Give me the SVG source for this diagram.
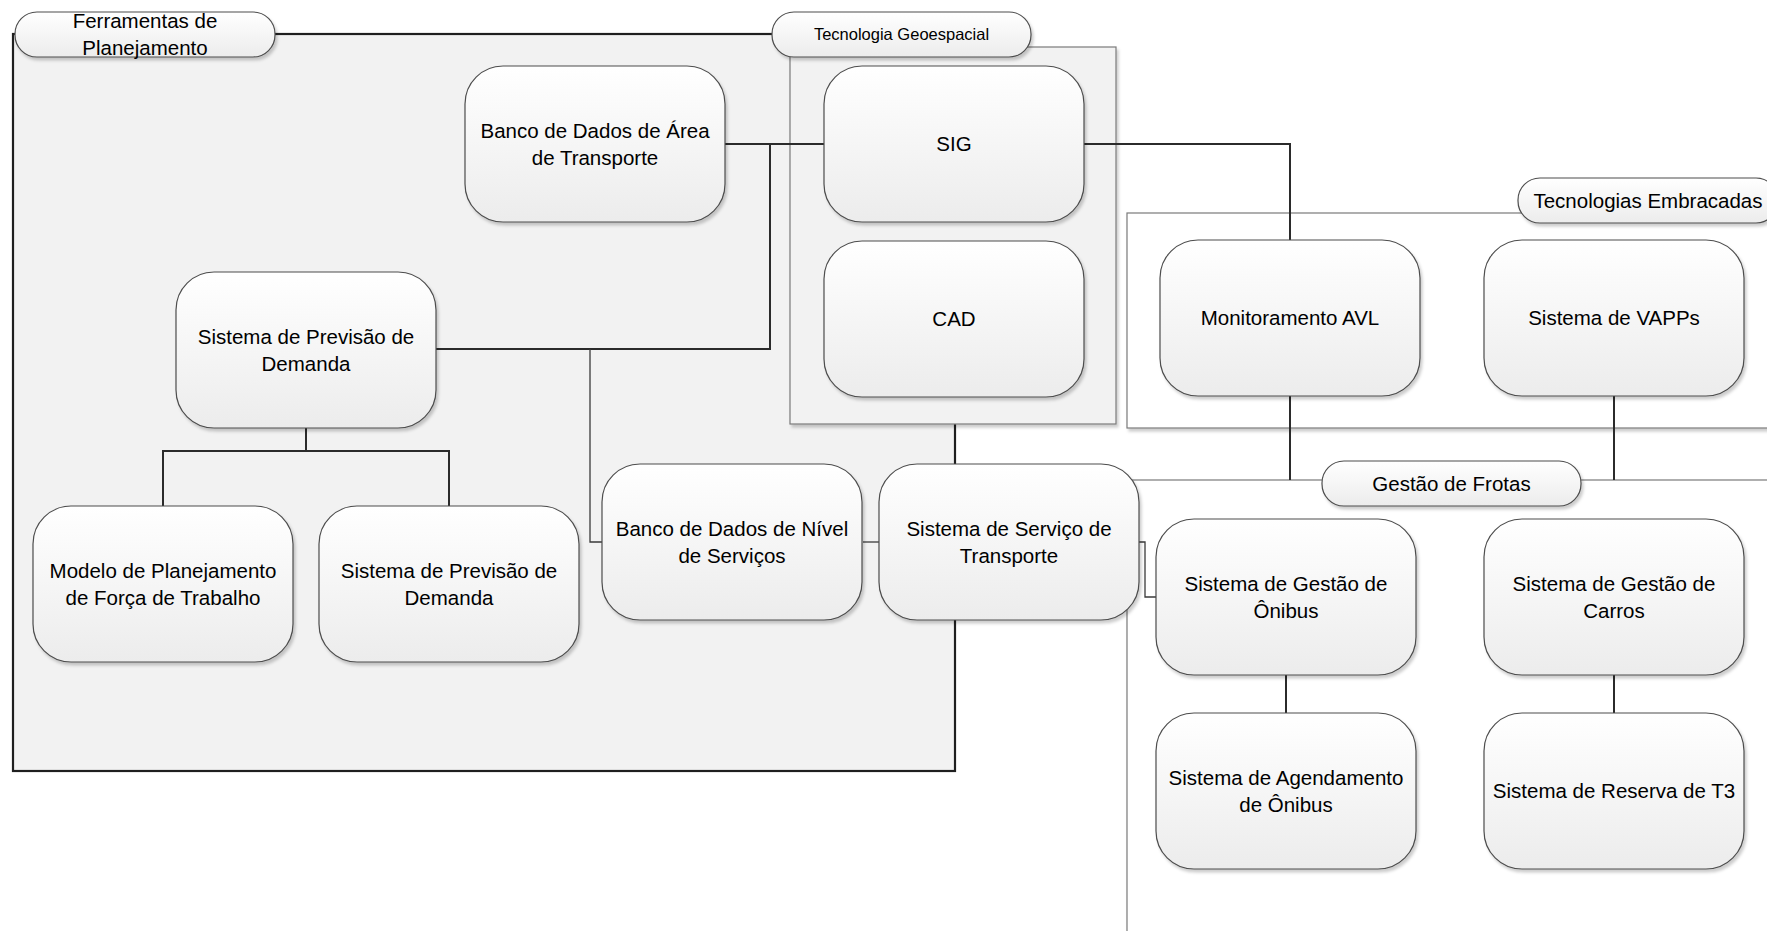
<svg xmlns="http://www.w3.org/2000/svg" width="1767" height="931" viewBox="0 0 1767 931">
<defs>
  <linearGradient id="g" x1="0" y1="0" x2="0" y2="1">
    <stop offset="0" stop-color="#ffffff"/>
    <stop offset="1" stop-color="#ececec"/>
  </linearGradient>
  <filter id="sh" x="-10%" y="-10%" width="125%" height="135%">
    <feDropShadow dx="2" dy="3" stdDeviation="1.5" flood-color="#000" flood-opacity="0.2"/>
  </filter>
</defs>
<style>
  .node rect { fill:url(#g); stroke:#4d4d4d; stroke-width:1.2; filter:url(#sh); }
  .lbl rect { fill:url(#g); stroke:#4d4d4d; stroke-width:1.2; filter:url(#sh); }
  text { font-family:"Liberation Sans", Arial, sans-serif; font-size:20.5px; fill:#000; text-anchor:middle; }
  .small { font-size:16.5px; }
  .cont { stroke:#7a7a7a; stroke-width:1.2; filter:url(#sh); }
  .c { fill:none; stroke:#2b2b2b; stroke-width:2; }
  .ct { fill:none; stroke:#3a3a3a; stroke-width:1.3; }
</style>
<rect width="1767" height="931" fill="#ffffff"/>

<g id="containers">
  <rect id="ferramentas-box" x="13" y="34" width="942" height="737" fill="#f2f2f2" stroke="#1f1f1f" stroke-width="2.2"/>
  <rect id="embarcadas-box" class="cont" x="1127" y="213" width="700" height="215" fill="#ffffff"/>
  <rect id="frotas-box" class="cont" x="1127" y="480" width="700" height="520" fill="#ffffff"/>
  <rect id="geo-box" class="cont" x="790" y="47" width="326" height="377" fill="#f2f2f2"/>
</g>

<g id="group-labels" class="lbl">
  <g id="lbl-ferramentas">
    <rect x="15" y="12" width="260" height="45" rx="22"/>
    <text x="145" y="27.5">Ferramentas de</text>
    <text x="145" y="54.5">Planejamento</text>
  </g>
  <g id="lbl-geo">
    <rect x="772" y="12" width="259" height="45" rx="22"/>
    <text class="small" x="901.5" y="40">Tecnologia Geoespacial</text>
  </g>
  <g id="lbl-embarcadas">
    <rect x="1518" y="178" width="260" height="45" rx="22"/>
    <text x="1648" y="208">Tecnologias Embracadas</text>
  </g>
  <g id="lbl-frotas">
    <rect x="1322" y="461" width="259" height="45" rx="22"/>
    <text x="1451.5" y="490.5">Gestão de Frotas</text>
  </g>
</g>

<g id="connectors">
  <path class="c" d="M725 144 H824"/>
  <path class="c" d="M770 144 V349 H436"/>
  <path class="ct" d="M590 349 V542 H602"/>
  <path class="ct" d="M863 542 H879"/>
  <path class="c" stroke-width="2.5" d="M306 428 V451 M163 506 V451 H449 V506"/>
  <path class="c" d="M1084 144 H1290 V240"/>
  <path class="c" d="M1290 396 V480"/>
  <path class="c" d="M1614 396 V480"/>
  <path class="c" d="M1286 675 V713"/>
  <path class="c" d="M1614 675 V713"/>
  <path class="ct" d="M1139 542 H1145 V597 H1156"/>
</g>

<g id="nodes">
  <g id="banco-area" class="node">
    <rect x="465" y="66" width="260" height="156" rx="38"/>
    <text x="595" y="137.5">Banco de Dados de Área</text>
    <text x="595" y="164.5">de Transporte</text>
  </g>
  <g id="sig" class="node">
    <rect x="824" y="66" width="260" height="156" rx="38"/>
    <text x="954" y="151">SIG</text>
  </g>
  <g id="cad" class="node">
    <rect x="824" y="241" width="260" height="156" rx="38"/>
    <text x="954" y="326">CAD</text>
  </g>
  <g id="previsao-1" class="node">
    <rect x="176" y="272" width="260" height="156" rx="38"/>
    <text x="306" y="343.5">Sistema de Previsão de</text>
    <text x="306" y="370.5">Demanda</text>
  </g>
  <g id="modelo" class="node">
    <rect x="33" y="506" width="260" height="156" rx="38"/>
    <text x="163" y="577.5">Modelo de Planejamento</text>
    <text x="163" y="604.5">de Força de Trabalho</text>
  </g>
  <g id="previsao-2" class="node">
    <rect x="319" y="506" width="260" height="156" rx="38"/>
    <text x="449" y="577.5">Sistema de Previsão de</text>
    <text x="449" y="604.5">Demanda</text>
  </g>
  <g id="banco-nivel" class="node">
    <rect x="602" y="464" width="260" height="156" rx="38"/>
    <text x="732" y="535.5">Banco de Dados de Nível</text>
    <text x="732" y="562.5">de Serviços</text>
  </g>
  <g id="servico" class="node">
    <rect x="879" y="464" width="260" height="156" rx="38"/>
    <text x="1009" y="535.5">Sistema de Serviço de</text>
    <text x="1009" y="562.5">Transporte</text>
  </g>
  <g id="avl" class="node">
    <rect x="1160" y="240" width="260" height="156" rx="38"/>
    <text x="1290" y="325">Monitoramento AVL</text>
  </g>
  <g id="vapps" class="node">
    <rect x="1484" y="240" width="260" height="156" rx="38"/>
    <text x="1614" y="325">Sistema de VAPPs</text>
  </g>
  <g id="gestao-onibus" class="node">
    <rect x="1156" y="519" width="260" height="156" rx="38"/>
    <text x="1286" y="590.5">Sistema de Gestão de</text>
    <text x="1286" y="617.5">Ônibus</text>
  </g>
  <g id="gestao-carros" class="node">
    <rect x="1484" y="519" width="260" height="156" rx="38"/>
    <text x="1614" y="590.5">Sistema de Gestão de</text>
    <text x="1614" y="617.5">Carros</text>
  </g>
  <g id="agendamento" class="node">
    <rect x="1156" y="713" width="260" height="156" rx="38"/>
    <text x="1286" y="784.5">Sistema de Agendamento</text>
    <text x="1286" y="811.5">de Ônibus</text>
  </g>
  <g id="reserva" class="node">
    <rect x="1484" y="713" width="260" height="156" rx="38"/>
    <text x="1614" y="798">Sistema de Reserva de T3</text>
  </g>
</g>
</svg>
